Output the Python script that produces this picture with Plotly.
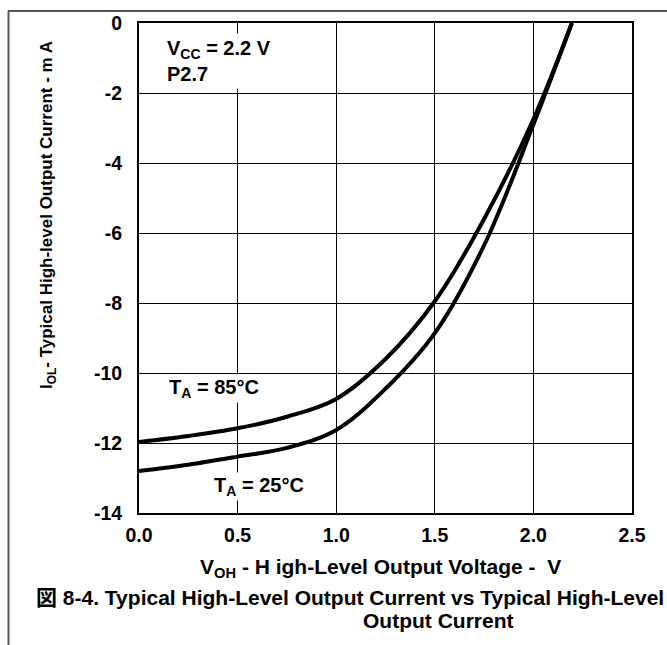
import plotly.graph_objects as go

# Data
v_85 = [0.0, 0.25, 0.5, 0.75, 1.0, 1.25, 1.5, 1.75, 2.0, 2.195]
i_85 = [-11.97, -11.8, -11.58, -11.25, -10.74, -9.6, -7.95, -5.6, -2.75, 0.0]

v_25 = [0.0, 0.25, 0.5, 0.75, 1.0, 1.25, 1.5, 1.75, 2.0, 2.195]
i_25 = [-12.8, -12.62, -12.39, -12.14, -11.63, -10.45, -8.86, -6.35, -2.9, 0.0]

x_ticks = [0.0, 0.5, 1.0, 1.5, 2.0, 2.5]
y_ticks = [0, -2, -4, -6, -8, -10, -12, -14]
y_ticktext = ["0", "-2", "-4", "-6", "-8", "-10", "-12", "-14"]

FONT = "Liberation Sans, Arial, sans-serif"

fig = go.Figure()
for xs, ys in [(v_85, i_85), (v_25, i_25)]:
    fig.add_trace(go.Scatter(x=xs, y=ys, mode="lines",
                             line=dict(color="black", width=4, shape="spline", smoothing=1.0),
                             showlegend=False, hoverinfo="skip"))

W, H = 667, 645
L, R, T, B = 139, 35, 23, 132
pw, ph = W - L - R, H - T - B

def px(x):
    return (x - L) / pw

def py(y):
    return 1 - (y - T) / ph

tickfont = dict(family=FONT, size=19.5, color="black", weight="bold")

fig.update_layout(
    width=W, height=H,
    margin=dict(l=L, r=R, t=T, b=B),
    paper_bgcolor="white", plot_bgcolor="white",
    font=dict(family=FONT, size=16, color="black"),
    xaxis=dict(range=[0, 2.5], tickvals=x_ticks, tickformat=".1f",
               showgrid=True, gridcolor="black", gridwidth=1,
               showline=True, linecolor="black", linewidth=2, mirror=True,
               zeroline=False, ticks="", ticklabelstandoff=4, tickfont=tickfont),
    yaxis=dict(range=[-14, 0], tickvals=y_ticks, ticktext=y_ticktext,
               showgrid=True, gridcolor="black", gridwidth=1,
               showline=True, linecolor="black", linewidth=2, mirror=True,
               zeroline=False, ticks="", ticklabelstandoff=11, tickfont=tickfont),
)

def bold(size):
    return dict(family=FONT, size=size, color="black", weight="bold")

annotations = [
    dict(x=0.12, y=-0.28, xref="x", yref="y", xanchor="left", yanchor="top", align="left",
         text="V<sub>CC</sub> = 2.2 V<br>P2.7", showarrow=False, font=bold(20),
         bgcolor="white", borderpad=3),
    dict(x=0.14, y=-10.45, xref="x", yref="y", xanchor="left", yanchor="middle",
         text="T<sub>A</sub> = 85°C", showarrow=False, font=bold(20), bgcolor="white", borderpad=1),
    dict(x=0.37, y=-13.25, xref="x", yref="y", xanchor="left", yanchor="middle",
         text="T<sub>A</sub> = 25°C", showarrow=False, font=bold(20), bgcolor="white", borderpad=1),
    dict(x=px(48), y=py(215), xref="paper", yref="paper", xanchor="center", yanchor="middle",
         text="I<sub>OL</sub>- Typical High-level Output Current - m A", textangle=-90,
         showarrow=False, font=bold(17)),
    dict(x=px(380), y=py(568), xref="paper", yref="paper", xanchor="center", yanchor="middle",
         text="V<sub>OH</sub> - H igh-Level Output Voltage -  V", showarrow=False, font=bold(21)),
    dict(x=px(350), y=py(597), xref="paper", yref="paper", xanchor="center", yanchor="middle",
         text="図 8-4. Typical High-Level Output Current vs Typical High-Level",
         showarrow=False, font=dict(family=FONT + ", Noto Sans CJK JP", size=21, color="black", weight="bold")),
    dict(x=px(438), y=py(620), xref="paper", yref="paper", xanchor="center", yanchor="middle",
         text="Output Current", showarrow=False, font=bold(21)),
]
fig.update_layout(annotations=annotations)

# outer frame: top and left edges
fig.add_shape(type="line", xref="paper", yref="paper",
              x0=px(8), x1=px(667), y0=py(11), y1=py(11),
              line=dict(color="#555555", width=2), layer="above")
fig.add_shape(type="line", xref="paper", yref="paper",
              x0=px(8.5), x1=px(8.5), y0=py(645), y1=py(11),
              line=dict(color="#555555", width=2), layer="above")

fig.write_html("out.html", config={"displayModeBar": False},
               post_script="document.body.style.margin='0';document.body.style.overflow='hidden';")
